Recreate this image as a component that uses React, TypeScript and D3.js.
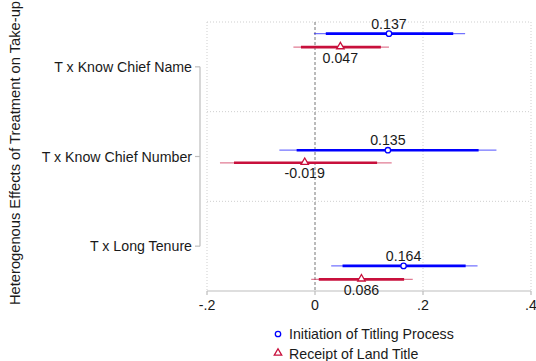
import React from 'react';
import * as d3 from 'd3';

// category labels on the left axis
const categories = ['T x Know Chief Name', 'T x Know Chief Number', 'T x Long Tenure'];
const xTicks = [-0.2, 0, 0.2, 0.4];
const xTickLabels = ['-.2', '0', '.2', '.4'];

// Initiation of Titling Process
const initCoef = [0.137, 0.135, 0.164];
const initLo95 = [-0.002, -0.066, 0.030];
const initHi95 = [0.278, 0.336, 0.301];
const initLo90 = [0.020, -0.034, 0.051];
const initHi90 = [0.256, 0.303, 0.279];
const initPos = [0.63, 1.93, 3.22];

// Receipt of Land Title
const recCoef = [0.047, -0.019, 0.086];
const recLo95 = [-0.040, -0.176, -0.007];
const recHi95 = [0.137, 0.142, 0.181];
const recLo90 = [-0.026, -0.150, 0.007];
const recHi90 = [0.122, 0.115, 0.165];
const recPos = [0.78, 2.07, 3.37];

const gridRows = [0.5, 1.5, 2.5];

const BLUE = '#0000ff';
const RED = '#c8103c';
const FONT = '"Liberation Sans", Arial, Helvetica, sans-serif';
const FS = 14.2;

export default function App() {
    const width = 536;
    const height = 361;

    const x = d3.scaleLinear().domain([-0.2, 0.4]).range([207, 531]);
    const y = d3.scaleLinear().domain([0.5, 3.5]).range([22, 291]);

    const axisY = y(3.5);
    const axisX = 200;

    const series = [
        { name: 'Initiation of Titling Process', color: BLUE, coef: initCoef, lo95: initLo95, hi95: initHi95, lo90: initLo90, hi90: initHi90, pos: initPos, marker: 'circle', labelDy: -5 },
        { name: 'Receipt of Land Title', color: RED, coef: recCoef, lo95: recLo95, hi95: recHi95, lo90: recLo90, hi90: recHi90, pos: recPos, marker: 'triangle', labelDy: 15.5 },
    ];

    const tri = d3.symbol().type(d3.symbolTriangle).size(24)();

    return (
        <svg width={width} height={height} style={{ position: 'absolute', left: 0, top: 0, fontFamily: FONT }}>
            <rect width={width} height={height} fill="#fff" />

            {/* grid */}
            {gridRows.map((g, i) => (
                <line key={'gh' + i} x1={x(-0.2)} x2={x(0.4)} y1={y(g)} y2={y(g)} stroke="#cfcfcf" strokeWidth={1} strokeDasharray="1,2" />
            ))}
            {[-0.2, 0.2, 0.4].map((t, i) => (
                <line key={'gv' + i} x1={x(t)} x2={x(t)} y1={y(0.5)} y2={axisY} stroke="#cfcfcf" strokeWidth={1} strokeDasharray="1,2" />
            ))}
            <line x1={x(0)} x2={x(0)} y1={y(0.5)} y2={axisY} stroke="#777" strokeWidth={1} strokeDasharray="3,2" />

            {/* x axis */}
            <line x1={x(-0.2)} x2={x(0.4)} y1={axisY} y2={axisY} stroke="#bdbdbd" strokeWidth={1.2} />
            {xTicks.map((t, i) => (
                <g key={'xt' + i}>
                    <line x1={x(t)} x2={x(t)} y1={axisY} y2={axisY + 4} stroke="#bdbdbd" strokeWidth={1.2} />
                    <text x={x(t)} y={axisY + 19} textAnchor="middle" fontSize={FS} fill="#1a1a1a">{xTickLabels[i]}</text>
                </g>
            ))}

            {/* y axis */}
            <line x1={axisX} x2={axisX} y1={y(1)} y2={y(3)} stroke="#bdbdbd" strokeWidth={1.2} />
            {categories.map((c, i) => (
                <g key={'yt' + i}>
                    <line x1={axisX - 5} x2={axisX} y1={y(i + 1)} y2={y(i + 1)} stroke="#bdbdbd" strokeWidth={1.2} />
                    <text x={axisX - 8} y={y(i + 1) + 5} textAnchor="end" fontSize={FS} fill="#1a1a1a">{c}</text>
                </g>
            ))}
            <text transform={`translate(20,153) rotate(-90)`} textAnchor="middle" fontSize={14.7} fill="#1a1a1a">
                Heterogenous Effects of Treatment on Take-up
            </text>

            {/* coefficients */}
            {series.map(s => (
                <g key={s.name}>
                    {s.coef.map((c, i) => {
                        const yy = y(s.pos[i]);
                        return (
                            <g key={i}>
                                <line x1={x(s.lo95[i])} x2={x(s.hi95[i])} y1={yy} y2={yy} stroke={s.color} strokeOpacity={0.55} strokeWidth={1.3} />
                                <line x1={x(s.lo90[i])} x2={x(s.hi90[i])} y1={yy} y2={yy} stroke={s.color} strokeWidth={2.6} />
                                {s.marker === 'circle'
                                    ? <circle cx={x(c)} cy={yy} r={2.7} fill="#fff" stroke={s.color} strokeWidth={1.3} />
                                    : <path d={tri} transform={`translate(${x(c)},${yy - 0.5})`} fill="#fff" stroke={s.color} strokeWidth={1.3} />}
                                <text x={x(c)} y={yy + s.labelDy} textAnchor="middle" fontSize={FS} fill="#1a1a1a">{c.toFixed(3)}</text>
                            </g>
                        );
                    })}
                </g>
            ))}

            {/* legend */}
            {series.map((s, i) => {
                const ly = 334 + i * 19.5;
                return (
                    <g key={'lg' + i}>
                        {s.marker === 'circle'
                            ? <circle cx={278} cy={ly} r={2.7} fill="#fff" stroke={s.color} strokeWidth={1.3} />
                            : <path d={tri} transform={`translate(278,${ly - 0.5})`} fill="#fff" stroke={s.color} strokeWidth={1.3} />}
                        <text x={289} y={ly + 5} fontSize={FS} fill="#1a1a1a">{s.name}</text>
                    </g>
                );
            })}
        </svg>
    );
}
